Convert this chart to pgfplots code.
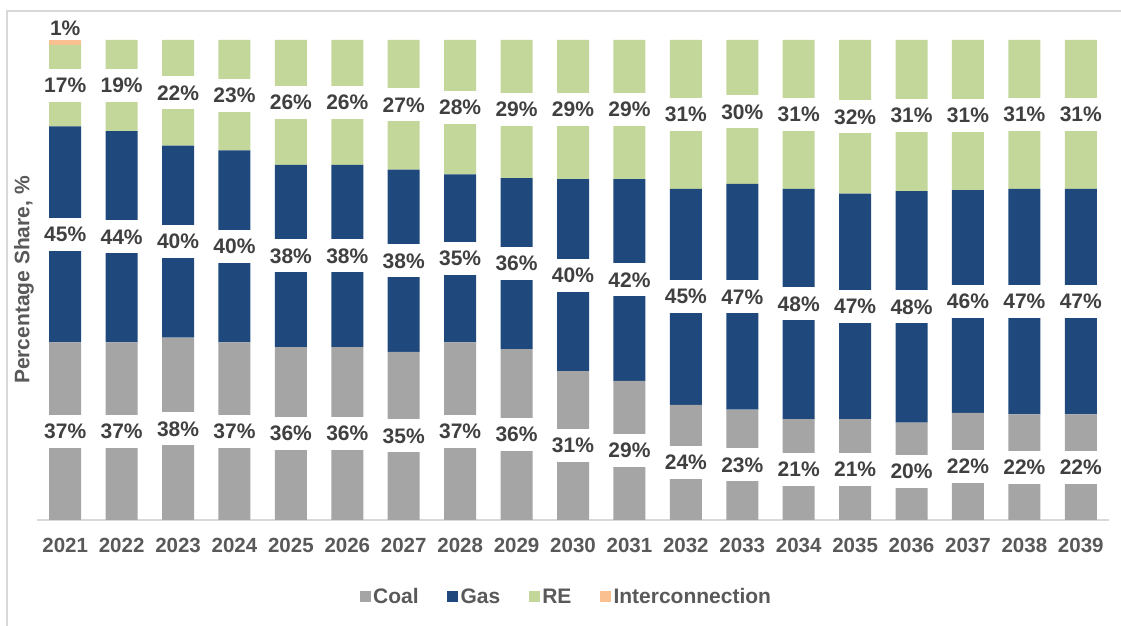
\documentclass[border=0pt]{standalone}
\usepackage{pgfplots}
\pgfplotsset{compat=1.18}
\usepackage{pgfplotstable}
\usepackage{fontspec}
\setmainfont{Liberation Sans}
\definecolor{coal}{HTML}{A5A5A5}
\definecolor{gas}{HTML}{1F497D}
\definecolor{re}{HTML}{C4D79B}
\definecolor{ic}{HTML}{FAC090}
\definecolor{lblc}{HTML}{404040}
\definecolor{axc}{HTML}{595959}
\definecolor{linec}{HTML}{D9D9D9}

% shares (%), year index 0 = 2021
\pgfplotstableread{
x coal gas re ic
0 37 45 17 1
1 37 44 19 0
2 38 40 22 0
3 37 40 23 0
4 36 38 26 0
5 36 38 26 0
6 35 38 27 0
7 37 35 28 0
8 35.6 35.6 28.8 0
9 31 40 29 0
10 29 42 29 0
11 24 45 31 0
12 23 47 30 0
13 21 48 31 0
14 21 47 32 0
15 20.3 48.2 31.5 0
16 22.3 46.4 31.3 0
17 22 47 31 0
18 22 47 31 0
}\datatable

% label positions (segment centres) and printed values
\pgfplotstableread{
x y v
0 18.5 37
1 18.5 37
2 19 38
3 18.5 37
4 18 36
5 18 36
6 17.5 35
7 18.5 37
8 17.8 36
9 15.5 31
10 14.5 29
11 12 24
12 11.5 23
13 10.5 21
14 10.5 21
15 10.15 20
16 11.15 22
17 11 22
18 11 22
0 59.5 45
1 59 44
2 58 40
3 57 40
4 55 38
5 55 38
6 54 38
7 54.5 35
8 53.4 36
9 51 40
10 50 42
11 46.5 45
12 46.5 47
13 45 48
14 44.5 47
15 44.4 48
16 45.5 46
17 45.5 47
18 45.5 47
0 90.5 17
1 90.5 19
2 89 22
3 88.5 23
4 87 26
5 87 26
6 86.5 27
7 86 28
8 85.6 29
9 85.5 29
10 85.5 29
11 84.5 31
12 85 30
13 84.5 31
14 84 32
15 84.25 31
16 84.35 31
17 84.5 31
18 84.5 31
}\labtable

\pgfplotstableread{
x y v
0 102.5 1
}\iclab

\begin{document}
\begin{tikzpicture}
\path[use as bounding box] (0,0) rectangle (1121pt,626pt);
\draw[linec, line width=2pt] (7pt,0pt) -- (7pt,615pt) -- (1121pt,615pt);

\begin{axis}[
  at={(37pt,106pt)}, anchor=south west,
  scale only axis, width=1072pt, height=480pt,
  ybar stacked, bar width=32pt,
  xmin=-0.5, xmax=18.5, ymin=0, ymax=100,
  enlargelimits=false, clip=false,
  axis x line*=bottom, axis y line*=left,
  x axis line style={draw=linec, line width=1.5pt, -},
  y axis line style={draw=none},
  ytick=\empty,
  xtick={0,...,18},
  xticklabels={2021,2022,2023,2024,2025,2026,2027,2028,2029,2030,2031,2032,2033,2034,2035,2036,2037,2038,2039},
  major tick length=0pt,
  xticklabel style={anchor=center, yshift=-25.5pt, font=\fontsize{20.5}{24}\selectfont\bfseries, text=axc},
  every axis y label/.style={at={(rel axis cs:-0.0121,0.5)}, rotate=90, anchor=center,
     font=\fontsize{21}{24}\selectfont\bfseries, text=axc},
  ylabel={Percentage Share, \%},
  legend style={at={(0.494,-0.160)}, anchor=center, draw=none, fill=none,
     legend columns=4, font=\fontsize{21}{24}\selectfont\bfseries, text=axc,
     /tikz/every even column/.append style={column sep=26pt},
     nodes={inner xsep=2.5pt}},
]
\addplot[fill=coal, draw=none, legend image code/.code={\fill[coal] (0pt,-5.5pt) rectangle (11pt,5.5pt);}] table[x=x,y=coal]{\datatable};
\addlegendentry{Coal}
\addplot[fill=gas, draw=none, legend image code/.code={\fill[gas] (0pt,-5.5pt) rectangle (11pt,5.5pt);}] table[x=x,y=gas]{\datatable};
\addlegendentry{Gas}
\addplot[fill=re, draw=none, legend image code/.code={\fill[re] (0pt,-5.5pt) rectangle (11pt,5.5pt);}] table[x=x,y=re]{\datatable};
\addlegendentry{RE}
\addplot[fill=ic, draw=none, legend image code/.code={\fill[ic] (0pt,-5.5pt) rectangle (11pt,5.5pt);}] table[x=x,y=ic]{\datatable};
\addlegendentry{Interconnection}
\end{axis}

\begin{axis}[
  at={(37pt,106pt)}, anchor=south west,
  scale only axis, width=1072pt, height=480pt,
  xmin=-0.5, xmax=18.5, ymin=0, ymax=100,
  enlargelimits=false, clip=false, hide axis,
  /pgf/number format/assume math mode=true,
]
\addplot[draw=none, mark=none, point meta=explicit,
  nodes near coords={\pgfmathprintnumber[assume math mode=true]{\pgfplotspointmeta}\%},
  every node near coord/.append style={anchor=center, fill=white, minimum height=33pt,
     inner xsep=1.5pt, inner ysep=0pt, text=lblc, font=\fontsize{21}{24}\selectfont\bfseries}]
  table[x=x,y=y,meta=v]{\labtable};
\addplot[draw=none, mark=none, point meta=explicit,
  nodes near coords={\pgfmathprintnumber[assume math mode=true]{\pgfplotspointmeta}\%},
  every node near coord/.append style={anchor=center, inner sep=0pt,
     text=lblc, font=\fontsize{21}{24}\selectfont\bfseries}]
  table[x=x,y=y,meta=v]{\iclab};
\end{axis}
\end{tikzpicture}
\end{document}
